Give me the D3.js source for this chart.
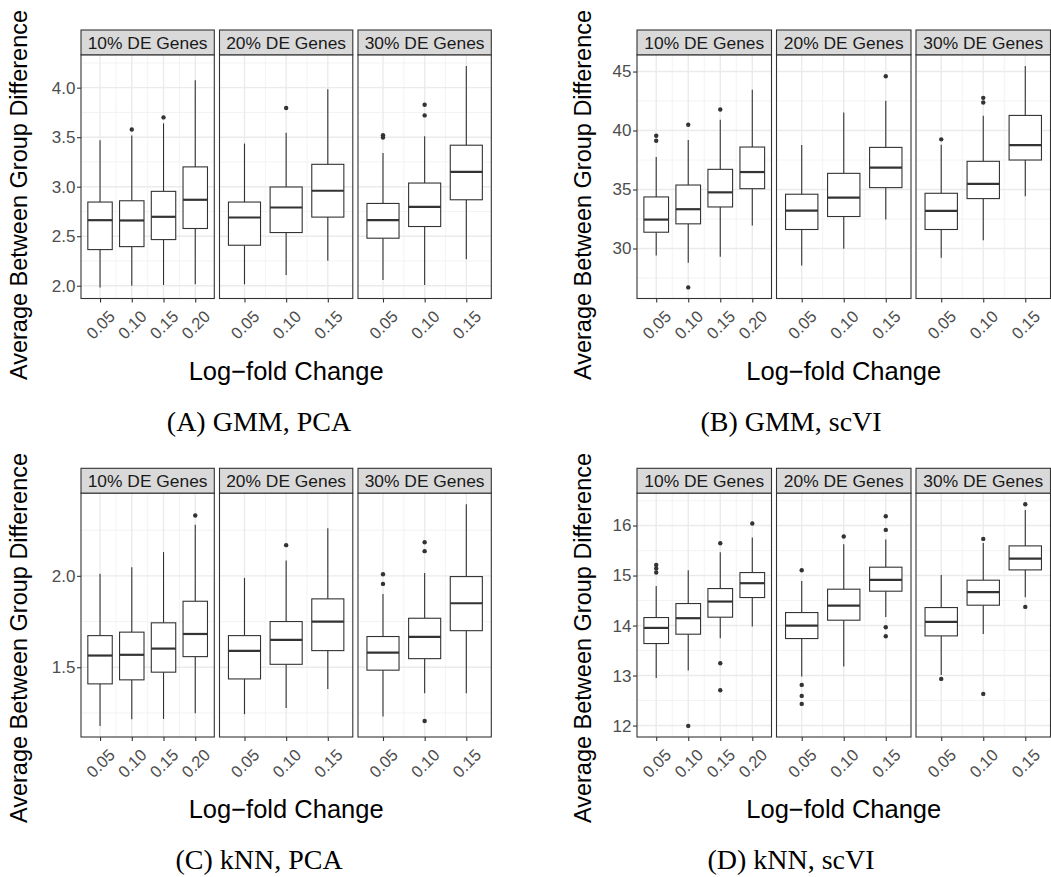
<!DOCTYPE html>
<html><head><meta charset="utf-8">
<script src="https://cdn.jsdelivr.net/npm/d3@7"></script>
<style>body{margin:0;background:#fff}svg{display:block}</style>
</head><body>
<script>
// ---------- data ----------
const facetLabels = ["10% DE Genes", "20% DE Genes", "30% DE Genes"];
const lfcLevels = [["0.05","0.10","0.15","0.20"], ["0.05","0.10","0.15"], ["0.05","0.10","0.15"]];
const xTitle = "Log\u2212fold Change";
const yTitle = "Average Between Group Difference";
const captions = ["(A) GMM, PCA", "(B) GMM, scVI", "(C) kNN, PCA", "(D) kNN, scVI"];

// box stats: [lower whisker, Q1, median, Q3, upper whisker]
const gmmPcaStats = [
  [[1.983,2.365,2.662,2.845,3.47],[2.0,2.395,2.659,2.858,3.517],[2.007,2.466,2.696,2.953,3.64],[2.014,2.578,2.868,3.20,4.074]],
  [[2.014,2.409,2.689,2.845,3.436],[2.108,2.537,2.79,2.997,3.544],[2.253,2.693,2.959,3.226,3.983]],
  [[2.057,2.48,2.662,2.831,3.341],[2.007,2.598,2.797,3.037,3.51],[2.267,2.868,3.149,3.419,4.22]]
];
const gmmPcaOutliers = [
  [[],[3.578],[3.70],[]],
  [[],[3.794],[]],
  [[3.52,3.497],[3.828,3.72],[]]
];
const gmmPcaTicks = [2.0, 2.5, 3.0, 3.5, 4.0];

const gmmScviStats = [
  [[29.41,31.38,32.45,34.37,37.75],[28.79,32.09,33.33,35.38,39.19],[29.30,33.52,34.76,36.71,40.91],[31.95,35.07,36.48,38.60,43.45]],
  [[28.56,31.61,33.21,34.60,38.77],[29.97,32.71,34.31,36.37,41.53],[32.45,35.16,36.85,38.57,42.52]],
  [[29.21,31.61,33.19,34.68,38.80],[30.70,34.23,35.47,37.39,41.25],[34.43,37.50,38.77,41.28,45.48]]
];
const gmmScviOutliers = [
  [[39.56,39.13],[40.49,26.70],[41.78],[]],
  [[],[],[44.60]],
  [[39.25],[42.77,42.38],[]]
];
const gmmScviTicks = [30, 35, 40, 45];

const knnPcaStats = [
  [[1.179,1.409,1.564,1.673,2.011],[1.215,1.431,1.568,1.692,2.047],[1.217,1.473,1.602,1.743,2.13],[1.248,1.558,1.682,1.861,2.279]],
  [[1.243,1.436,1.589,1.673,1.989],[1.277,1.516,1.65,1.75,2.084],[1.381,1.591,1.75,1.874,2.261]],
  [[1.23,1.484,1.58,1.668,1.901],[1.358,1.547,1.666,1.768,2.015],[1.358,1.70,1.85,1.996,2.392]]
];
const knnPcaOutliers = [
  [[],[],[],[2.33]],
  [[],[2.168],[]],
  [[2.009,1.956],[2.184,2.135,1.206],[]]
];
const knnPcaTicks = [1.5, 2.0];

const knnScviStats = [
  [[12.953,13.64,13.953,14.16,14.793],[13.10,13.827,14.147,14.44,15.107],[13.747,14.167,14.48,14.74,15.467],[13.98,14.56,14.847,15.06,15.76]],
  [[12.98,13.74,14.0,14.26,14.893],[13.18,14.107,14.4,14.727,15.627],[14.173,14.687,14.913,15.167,15.72]],
  [[13.013,13.793,14.073,14.36,15.013],[13.833,14.407,14.667,14.907,15.653],[14.567,15.113,15.34,15.593,16.313]]
];
const knnScviOutliers = [
  [[15.213,15.14,15.06],[11.993],[15.647,13.247,12.707],[16.04]],
  [[15.107,12.813,12.593,12.433],[15.78],[16.187,15.913,13.967,13.787]],
  [[12.933],[15.733,12.633],[16.427,14.373]]
];
const knnScviTicks = [12, 13, 14, 15, 16];

// ---------- layout ----------
const W = 1051, H = 877;
const svg = d3.select("body").append("svg").attr("width", W).attr("height", H)
  .style("font-family", "'Liberation Sans', Arial, sans-serif");

const panels = [
  {stats: gmmPcaStats, outl: gmmPcaOutliers, ticks: gmmPcaTicks, fmt: d3.format(".1f"),
   left: 81, facetW: 133.3, step: 138.5, stripTop: 30, bottom: 298.5, titleX: 27, titleY: 195, capX: 259, capY: 431},
  {stats: gmmScviStats, outl: gmmScviOutliers, ticks: gmmScviTicks, fmt: d3.format("d"),
   left: 637, facetW: 134.5, step: 139.5, stripTop: 30, bottom: 298.5, titleX: 591, titleY: 195, capX: 791, capY: 431},
  {stats: knnPcaStats, outl: knnPcaOutliers, ticks: knnPcaTicks, fmt: d3.format(".1f"),
   left: 81, facetW: 133.3, step: 138.5, stripTop: 468.3, bottom: 737, titleX: 27, titleY: 638, capX: 259, capY: 869},
  {stats: knnScviStats, outl: knnScviOutliers, ticks: knnScviTicks, fmt: d3.format("d"),
   left: 637, facetW: 134.5, step: 139.5, stripTop: 468.3, bottom: 737, titleX: 591, titleY: 638, capX: 791, capY: 869}
];
const stripH = 24.8;
const boxFrac = 0.77;
const ink = "#333333";
const stripFs = 17.4, tickFs = 17, xTickFs = 16.5;

panels.forEach((p, pi) => {
  const g = svg.append("g");
  const panelTop = p.stripTop + stripH;
  // y scale with ggplot-like 5% expansion
  const allVals = [];
  p.stats.forEach((f, fi) => f.forEach((s, ci) => { allVals.push(...s, ...p.outl[fi][ci]); }));
  const lo = d3.min(allVals), hi = d3.max(allVals), pad = (hi - lo) * 0.05;
  const y = d3.scaleLinear().domain([lo - pad, hi + pad]).range([p.bottom, panelTop]);
  const tickStep = p.ticks[1] - p.ticks[0];
  const minor = [];
  for (let v = p.ticks[0] - tickStep / 2; v <= hi + pad; v += tickStep) {
    if (v >= lo - pad) minor.push(v);
  }

  facetLabels.forEach((lab, fi) => {
    const fx0 = p.left + fi * p.step, fx1 = fx0 + p.facetW;
    const cats = lfcLevels[fi];
    const x = d3.scalePoint().domain(cats).range([fx0, fx1]).padding(0.6);
    const bw = x.step() * boxFrac;
    const fg = g.append("g");
    fg.append("rect").attr("x", fx0).attr("y", panelTop).attr("width", p.facetW)
      .attr("height", p.bottom - panelTop).attr("fill", "#fff");
    // minor grid
    fg.selectAll(".mh").data(minor).join("line")
      .attr("x1", fx0).attr("x2", fx1).attr("y1", d => y(d)).attr("y2", d => y(d))
      .attr("stroke", "#F2F2F2").attr("stroke-width", 0.9);
    const midX = cats.slice(1).map((c, i) => (x(c) + x(cats[i])) / 2);
    fg.selectAll(".mv").data(midX).join("line")
      .attr("x1", d => d).attr("x2", d => d).attr("y1", panelTop).attr("y2", p.bottom)
      .attr("stroke", "#F2F2F2").attr("stroke-width", 0.9);
    // major grid
    fg.selectAll(".Mh").data(p.ticks).join("line")
      .attr("x1", fx0).attr("x2", fx1).attr("y1", d => y(d)).attr("y2", d => y(d))
      .attr("stroke", "#EBEBEB").attr("stroke-width", 1.4);
    fg.selectAll(".Mv").data(cats).join("line")
      .attr("x1", d => x(d)).attr("x2", d => x(d)).attr("y1", panelTop).attr("y2", p.bottom)
      .attr("stroke", "#EBEBEB").attr("stroke-width", 1.4);

    // boxes
    cats.forEach((c, ci) => {
      const s = p.stats[fi][ci];
      const cx = x(c);
      const bg = fg.append("g");
      bg.append("line").attr("x1", cx).attr("x2", cx).attr("y1", y(s[3])).attr("y2", y(s[4]))
        .attr("stroke", ink).attr("stroke-width", 1.1);
      bg.append("line").attr("x1", cx).attr("x2", cx).attr("y1", y(s[1])).attr("y2", y(s[0]))
        .attr("stroke", ink).attr("stroke-width", 1.1);
      bg.append("rect").attr("x", cx - bw / 2).attr("width", bw)
        .attr("y", y(s[3])).attr("height", y(s[1]) - y(s[3]))
        .attr("fill", "#fff").attr("stroke", ink).attr("stroke-width", 1.1);
      bg.append("line").attr("x1", cx - bw / 2).attr("x2", cx + bw / 2)
        .attr("y1", y(s[2])).attr("y2", y(s[2])).attr("stroke", ink).attr("stroke-width", 2.2);
      bg.selectAll("circle").data(p.outl[fi][ci]).join("circle")
        .attr("cx", cx).attr("cy", d => y(d)).attr("r", 2.2).attr("fill", ink);
    });

    // border
    fg.append("rect").attr("x", fx0).attr("y", panelTop).attr("width", p.facetW)
      .attr("height", p.bottom - panelTop).attr("fill", "none").attr("stroke", ink).attr("stroke-width", 1.1);
    // strip
    fg.append("rect").attr("x", fx0).attr("y", p.stripTop).attr("width", p.facetW).attr("height", stripH)
      .attr("fill", "#D9D9D9").attr("stroke", ink).attr("stroke-width", 1.1);
    fg.append("text").attr("x", (fx0 + fx1) / 2).attr("y", p.stripTop + stripH / 2 + 0.358 * stripFs)
      .attr("text-anchor", "middle").attr("font-size", stripFs).attr("fill", "#1A1A1A").text(lab);

    // x axis
    const xa = fg.append("g").attr("transform", `translate(0,${p.bottom})`)
      .call(d3.axisBottom(x).tickSize(4).tickSizeOuter(0));
    xa.select(".domain").remove();
    xa.selectAll(".tick line").attr("stroke", ink).attr("stroke-width", 1.1);
    xa.selectAll(".tick text").attr("fill", "#4D4D4D").attr("font-size", xTickFs)
      .attr("font-family", "'Liberation Sans', Arial, sans-serif")
      .attr("text-anchor", "end").attr("dy", null).attr("y", null)
      .attr("transform", "translate(15.5,19) rotate(-45)");
  });

  // y axis on the first facet
  const ya = g.append("g").attr("transform", `translate(${p.left},0)`)
    .call(d3.axisLeft(y).tickValues(p.ticks).tickFormat(p.fmt).tickSize(4).tickPadding(1.5));
  ya.select(".domain").remove();
  ya.selectAll(".tick line").attr("stroke", ink).attr("stroke-width", 1.1);
  ya.selectAll(".tick text").attr("fill", "#4D4D4D").attr("font-size", tickFs)
    .attr("font-family", "'Liberation Sans', Arial, sans-serif");

  // titles
  const spanMid = p.left + (2 * p.step + p.facetW) / 2;
  g.append("text").attr("x", spanMid).attr("y", p.bottom + 81).attr("text-anchor", "middle")
    .attr("font-size", 25.5).attr("fill", "#000").text(xTitle);
  g.append("text").attr("transform", `translate(${p.titleX},${p.titleY}) rotate(-90)`)
    .attr("text-anchor", "middle").attr("font-size", 23.5).attr("fill", "#000").text(yTitle);
  g.append("text").attr("x", p.capX).attr("y", p.capY).attr("text-anchor", "middle")
    .attr("font-family", "'Liberation Serif', 'Times New Roman', serif").attr("font-size", 28)
    .attr("fill", "#000").text(captions[pi]);
});
</script>
</body></html>
